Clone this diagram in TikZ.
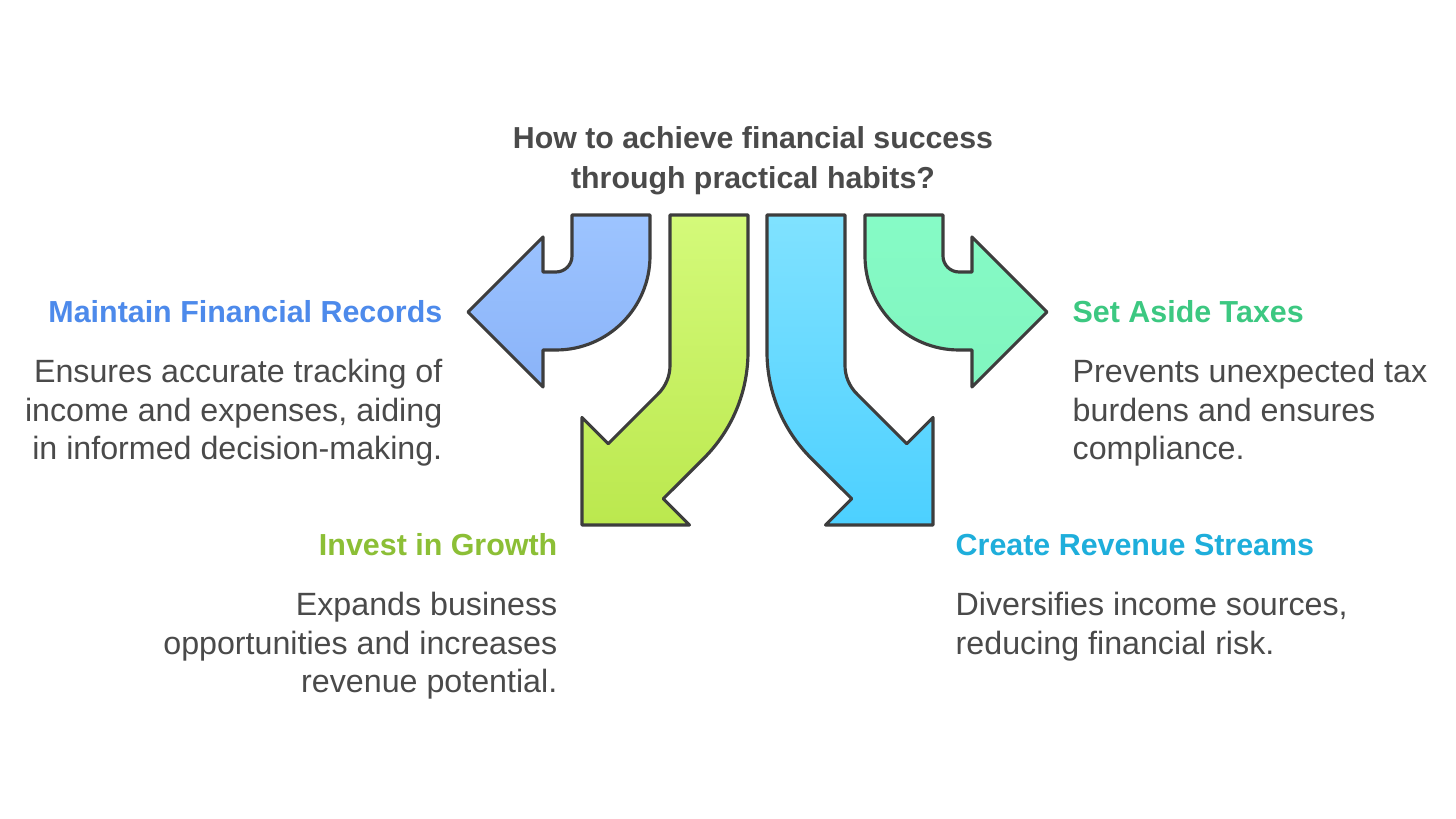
\documentclass[tikz,border=0pt]{standalone}
\usepackage{fontspec}
\setmainfont{Liberation Sans}
\usetikzlibrary{positioning}
\definecolor{InkGray}{HTML}{4A4A4A}
\definecolor{EdgeGray}{HTML}{3D3D3D}
\definecolor{RecBlue}{HTML}{4D8AEB}
\definecolor{GrowGreen}{HTML}{8CBF36}
\definecolor{TaxTeal}{HTML}{3CC881}
\definecolor{RevCyan}{HTML}{1EAEDB}

\begin{document}
\begin{tikzpicture}[x=0.01cm,y=-0.01cm,
	bent/.style={draw=EdgeGray,line width=0.9pt,line join=round},
	head/.style={inner sep=0pt,font=\fontsize{8.65}{10.5}\selectfont\bfseries},
	body/.style={inner sep=0pt,text=InkGray,font=\fontsize{9.16}{10.95}\selectfont}]
	\useasboundingbox[fill=white] (0,0) rectangle (1456,819);
	\node[align=center,text=InkGray,anchor=north,inner sep=0pt,
	font=\fontsize{8.62}{11.4}\selectfont\bfseries] (title) at (753,126)
	{How to achieve financial success\\through practical habits?};
	% arrows
	\draw[bent,top color={rgb,255:red,157;green,196;blue,255},bottom color={rgb,255:red,138;green,179;blue,248}]
	(572,215) -- (572,256) .. controls (572,264.8) and (564.8,272) .. (556,272)
	-- (543,272) -- (543,237) -- (468,312) -- (543,387) -- (543,350) -- (556,350)
	.. controls (607.9,350) and (650,307.9) .. (650,256) -- (650,215) -- cycle;
	\draw[bent,top color={rgb,255:red,212;green,250;blue,122},bottom color={rgb,255:red,187;green,232;blue,78}]
	(670,215) -- (670,365.4) .. controls (670,376) and (665.8,386.2) .. (658.3,393.7)
	-- (608.25,443.75) -- (582,417.5) -- (582,525) -- (689.5,525) -- (663.25,498.75)
	-- (704.1,458) .. controls (732.2,429.9) and (748,391.7) .. (748,351.9) -- (748,215) -- cycle;
	\draw[bent,top color={rgb,255:red,128;green,226;blue,255},bottom color={rgb,255:red,76;green,208;blue,255}]
	(845,215) -- (845,365.4) .. controls (845,376) and (849.2,386.2) .. (856.7,393.7)
	-- (906.75,443.75) -- (933,417.5) -- (933,525) -- (825.5,525) -- (851.75,498.75)
	-- (810.9,458) .. controls (782.8,429.9) and (767,391.7) .. (767,351.9) -- (767,215) -- cycle;
	\draw[bent,top color={rgb,255:red,134;green,251;blue,198},bottom color={rgb,255:red,128;green,245;blue,191}]
	(943,215) -- (943,256) .. controls (943,264.8) and (950.2,272) .. (959,272)
	-- (972,272) -- (972,237) -- (1047,312) -- (972,387) -- (972,350) -- (959,350)
	.. controls (907.1,350) and (865,307.9) .. (865,256) -- (865,215) -- cycle;
	% labels
	\node[head,text=RecBlue,anchor=base east] (records) at (443,323) {Maintain Financial Records};
	\node[body,align=right,below=10.2pt of records.base east,anchor=north east] (recordstext)
	{Ensures accurate tracking of\\income and expenses, aiding\\in informed decision-making.};
	\node[head,text=TaxTeal,anchor=base west] (taxes) at (1072,323) {Set Aside Taxes};
	\node[body,align=left,below=10.2pt of taxes.base west,anchor=north west] (taxestext)
	{Prevents unexpected tax\\burdens and ensures\\compliance.};
	\node[head,text=GrowGreen,anchor=base east] (growth) at (558,556) {Invest in Growth};
	\node[body,align=right,below=10.2pt of growth.base east,anchor=north east] (growthtext)
	{Expands business\\opportunities and increases\\revenue potential.};
	\node[head,text=RevCyan,anchor=base west] (streams) at (955,556) {Create Revenue Streams};
	\node[body,align=left,below=10.2pt of streams.base west,anchor=north west] (streamstext)
	{Diversifies income sources,\\reducing financial risk.};
\end{tikzpicture}
\end{document}
